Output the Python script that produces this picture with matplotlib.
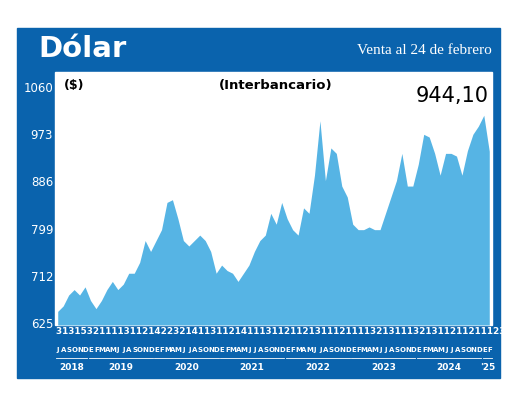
import numpy as np
import matplotlib
matplotlib.use("Agg")
import matplotlib.pyplot as plt

BLUE = "#0a63ad"
FILL = "#56b4e4"

# monthly sell rate, Jul 2018 .. Feb 2025
values = [650, 660, 680, 690, 680, 695,
          670, 655, 670, 690, 705, 690, 700, 720, 720, 740, 780, 760,
          780, 800, 850, 855, 820, 780, 770, 780, 790, 780, 760, 720,
          735, 725, 720, 705, 720, 735, 760, 780, 790, 830, 810, 850,
          820, 800, 790, 840, 830, 900, 1000, 890, 950, 940, 880, 860,
          810, 800, 800, 805, 800, 800, 830, 860, 890, 940, 880, 880,
          920, 975, 970, 940, 900, 940, 940, 935, 900, 945, 975, 990,
          1010, 944]
month_letters = list("JASOND") + list("EFMAMJJASOND") * 6 + list("EF")
years = ["2018", "2019", "2020", "2021", "2022", "2023", "2024", "'25"]
yticks = [625, 712, 799, 886, 973, 1060]
day_labels = "31315321111311214223214113112141113112112131112111132131113213112112111231121422 24"

fig = plt.figure(figsize=(5.2, 4.0), dpi=100)
W, H = 520, 400
def fx(x): return x / W
def fy(y): return 1 - y / H

# background frame in its own axes (pixel coords)
bg = fig.add_axes([0, 0, 1, 1], zorder=0)
bg.set_xlim(0, W); bg.set_ylim(H, 0); bg.axis("off")
bg.add_patch(plt.Rectangle((17, 28), 483, 350, color=BLUE))
bg.add_patch(plt.Rectangle((55, 72), 437, 253, color="white"))

fig.text(fx(38), fy(49), "Dólar", color="white", fontsize=21, fontweight="bold",
         family="DejaVu Sans", va="center")
fig.text(fx(492), fy(50), "Venta al 24 de febrero", color="white", fontsize=11,
         family="Liberation Serif", ha="right", va="center")

ax = fig.add_axes([fx(55), fy(325), fx(437), (325 - 88) / H], zorder=1)
x = np.arange(len(values))
ax.fill_between(x, 625, values, color=FILL, lw=0)
ax.set_xlim(-0.5, len(values) - 0.5)
ax.set_ylim(625, 1060)
ax.axis("off")

for v in yticks:
    fig.text(fx(53), fy(325 - (v - 625) / 435 * 237), str(v), color="white",
             fontsize=8.5, ha="right", va="center", zorder=3)
fig.text(fx(64), fy(86), "($)", fontsize=9, fontweight="bold", va="center", zorder=3)
fig.text(fx(276), fy(86), "(Interbancario)", fontsize=9.5, fontweight="bold",
         ha="center", va="center", zorder=3)
fig.text(fx(452), fy(96), "944,10", fontsize=15, ha="center", va="center", zorder=3)

# bottom strip
fig.text(fx(56), fy(332), day_labels, color="white", fontsize=6.4,
         fontweight="bold", va="center", zorder=3)
n = len(month_letters)
step = 432 / (n - 1)
for i, m in enumerate(month_letters):
    fig.text(fx(58 + i * step), fy(350), m, color="white", fontsize=5,
             fontweight="bold", ha="center", va="center", zorder=3)
starts = [0, 6, 18, 30, 42, 54, 66, 78]
for k, yr in enumerate(years):
    a = starts[k]
    b = starts[k + 1] - 1 if k + 1 < len(starts) else n - 1
    xa = 58 + a * step; xb = 58 + b * step
    fig.text(fx((xa + xb) / 2), fy(368), yr, color="white", fontsize=6.5,
             fontweight="bold", ha="center", va="center", zorder=3)
    bg.plot([xa - 2, xb + 2], [358, 358], color="white", lw=0.6)

fig.savefig("out.png", dpi=100)
